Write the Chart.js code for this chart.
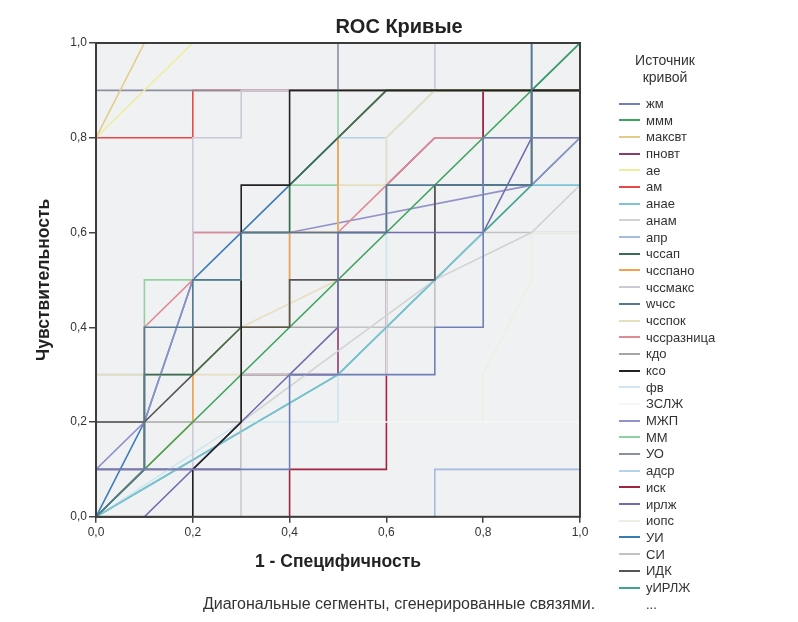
<!DOCTYPE html>
<html>
<head>
<meta charset="utf-8">
<script src="https://cdn.jsdelivr.net/npm/chart.js@4/dist/chart.umd.min.js"></script>
<style>
	body { margin: 0; background: #fff; }
	#wrap { position: relative; width: 798px; height: 622px; }
	#legend {
		position: absolute; left: 613px; top: 52px; width: 180px;
		font-family: "Liberation Sans", Arial, sans-serif; color: #333;
	}
	#legend .title { width: 104px; text-align: center; font-size: 14px; line-height: 17px; margin-bottom: 10px; }
	#legend .item { height: 16.7px; line-height: 16.7px; font-size: 13px; white-space: nowrap; }
	#legend .swatch { display: inline-block; width: 21px; height: 2px; vertical-align: middle; margin: 0 6px 2px 6px; }
</style>
</head>
<body>
<div id="wrap">
	<canvas id="rocChart" width="798" height="622"></canvas>
	<div id="legend"></div>
</div>
<script>
"use strict"

// DATA -----------------------
const curveNames = [
	"жм", "ммм", "максвт", "пновт", "ае", "ам", "анае", "анам", "апр", "чссап",
	"чсспано", "чссмакс", "wчсс", "чсспок", "чссразница", "кдо", "ксо", "фв",
	"ЗСЛЖ", "МЖП", "ММ", "УО", "адср", "иск", "ирлж", "иопс", "УИ", "СИ", "ИДК", "уИРЛЖ",
]

// 1 - specificity / sensitivity pairs for each curve
const curvePoints = [
	[[0,0],[0,0.1],[0.4,0.1],[0.4,0.3],[0.7,0.3],[0.7,0.4],[0.8,0.4],[0.8,0.8],[1,0.8],[1,1]],
	[[0,0],[1,1]],
	[[0,0],[0,0.8],[0.1,1],[1,1]],
	[[0,0],[0,0.1],[0.3,0.1],[0.3,0.3],[0.5,0.3],[0.5,0.6],[0.6,0.6],[0.6,0.7],[0.7,0.8],[0.8,0.8],[0.8,0.9],[1,0.9],[1,1]],
	[[0,0],[0,0.8],[0.2,1],[1,1]],
	[[0,0],[0,0.8],[0.2,0.8],[0.2,0.9],[1,0.9],[1,1]],
	[[0,0],[0.5,0.3],[0.7,0.5],[0.8,0.6],[0.8,0.7],[1,0.7],[1,1]],
	[[0,0],[0.3,0],[0.3,0.2],[0.7,0.5],[0.9,0.6],[1,0.7],[1,1]],
	[[0,0],[0.7,0],[0.7,0.1],[1,0.1],[1,1]],
	[[0,0],[0.1,0.1],[0.1,0.3],[0.2,0.3],[0.3,0.4],[0.3,0.6],[0.4,0.6],[0.4,0.7],[0.6,0.9],[1,0.9],[1,1]],
	[[0,0],[0.2,0.2],[0.2,0.3],[0.3,0.4],[0.4,0.4],[0.4,0.6],[0.5,0.6],[0.5,0.8],[0.6,0.9],[1,0.9],[1,1]],
	[[0,0],[0.2,0],[0.2,0.8],[0.3,0.8],[0.3,0.9],[0.7,0.9],[0.7,1],[1,1]],
	[[0,0],[0.1,0.1],[0.1,0.4],[0.2,0.4],[0.2,0.5],[0.3,0.5],[0.3,0.6],[0.6,0.6],[0.6,0.7],[0.9,0.7],[0.9,1],[1,1]],
	[[0,0],[0,0.3],[0.3,0.3],[0.3,0.4],[0.5,0.5],[0.5,0.7],[0.6,0.7],[0.6,0.8],[0.7,0.9],[1,0.9],[1,1]],
	[[0,0],[0.1,0.1],[0.1,0.4],[0.2,0.5],[0.2,0.6],[0.5,0.6],[0.6,0.7],[0.7,0.8],[1,0.8],[1,1]],
	[[0,0],[0,0.2],[0.3,0.2],[0.3,0.4],[0.5,0.4],[0.5,0.5],[0.7,0.5],[0.7,0.7],[0.9,0.7],[0.9,0.9],[1,0.9],[1,1]],
	[[0,0],[0.2,0],[0.2,0.1],[0.3,0.2],[0.3,0.7],[0.4,0.7],[0.4,0.9],[1,0.9],[1,1]],
	[[0,0],[0.3,0.2],[0.5,0.2],[0.5,0.3],[0.6,0.3],[0.6,0.8],[0.7,0.9],[0.7,1],[1,1]],
	[[0,0],[0,0.2],[1,0.2],[1,1]],
	[[0,0],[0,0.1],[0.1,0.2],[0.2,0.5],[0.2,0.6],[0.4,0.6],[0.9,0.7],[1,0.8],[1,1]],
	[[0,0],[0.1,0.1],[0.1,0.5],[0.3,0.5],[0.3,0.6],[0.4,0.6],[0.4,0.7],[0.5,0.7],[0.5,0.9],[1,0.9],[1,1]],
	[[0,0],[0,0.9],[0.5,0.9],[0.5,1],[1,1]],
	[[0,0],[0,0.3],[0.2,0.3],[0.3,0.4],[0.4,0.4],[0.4,0.6],[0.5,0.6],[0.5,0.8],[0.6,0.8],[0.7,0.9],[1,0.9],[1,1]],
	[[0,0],[0.4,0],[0.4,0.1],[0.6,0.1],[0.6,0.5],[0.7,0.5],[0.7,0.7],[0.8,0.7],[0.8,0.9],[1,0.9],[1,1]],
	[[0,0],[0.1,0],[0.5,0.4],[0.5,0.6],[0.8,0.6],[0.9,0.8],[0.9,1],[1,1]],
	[[0,0],[0,0.2],[0.8,0.2],[0.8,0.3],[0.9,0.5],[0.9,0.6],[1,0.6],[1,1]],
	[[0,0],[0.1,0.2],[0.2,0.5],[0.4,0.7],[0.6,0.9],[0.9,0.9],[1,1]],
	[[0,0],[0.3,0],[0.3,0.3],[0.4,0.3],[0.5,0.4],[0.7,0.4],[0.7,0.5],[0.8,0.6],[1,0.6],[1,1]],
	[[0,0],[0,0.2],[0.1,0.2],[0.2,0.3],[0.2,0.4],[0.4,0.4],[0.4,0.5],[0.7,0.5],[0.7,0.7],[0.9,0.7],[0.9,0.9],[1,0.9],[1,1]],
	[[0,0],[0.5,0.3],[0.6,0.4],[0.7,0.5],[0.9,0.7],[1,0.8],[1,1]],
]

const tickValues = [0, 0.2, 0.4, 0.6, 0.8, 1.0]
const tickLabels = ["0,0", "0,2", "0,4", "0,6", "0,8", "1,0"]

// STYLES -----------------------
const curveColors = [
	"#6f80b8", "#3ca35c", "#e2cd88", "#8a3c6c", "#eeee9c", "#e84848", "#7ac4d6", "#d2d2d2",
	"#a4bce2", "#3c6c52", "#f4a24e", "#cccad8", "#527a92", "#e6dfc0", "#e08a96", "#a6a6a6",
	"#222222", "#cfe6ee", "#f6f6f6", "#9292ca", "#92d2a2", "#8a90a0", "#b4d2ea", "#a22244",
	"#6e6eae", "#ecefe2", "#3b7bb9", "#c2c2c2", "#555555", "#42a392",
]

// curves drawn above (-1) or below (1) the rest
const onTop = ["ксо", "ИДК", "wчсс", "жм", "ирлж"]
const below = ["пновт", "ам"]

const font = "'Liberation Sans', Arial, sans-serif"

// CHART -----------------------
const plotFrame = {
	id: "plotFrame",
	beforeDatasetsDraw(chart) {
		const a = chart.chartArea
		const ctx = chart.ctx
		ctx.save()
		ctx.fillStyle = "#f0f1f2"
		ctx.fillRect(a.left, a.top, a.right - a.left, a.bottom - a.top)
		ctx.restore()
	},
	afterDatasetsDraw(chart) {
		const a = chart.chartArea
		const ctx = chart.ctx
		ctx.save()
		ctx.strokeStyle = "#3c3c3c"
		ctx.lineWidth = 2
		ctx.strokeRect(a.left, a.top, a.right - a.left, a.bottom - a.top)
		ctx.restore()
	},
}

const datasets = curveNames.map(function (name, i) {
	let order = 0
	if (onTop.indexOf(name) >= 0) order = -1
	if (below.indexOf(name) >= 0) order = 1
	return {
		label: name,
		data: curvePoints[i].map(function (p) { return { x: p[0], y: p[1] } }),
		borderColor: curveColors[i],
		backgroundColor: curveColors[i],
		borderWidth: 1.6,
		pointRadius: 0,
		showLine: true,
		tension: 0,
		clip: 3,
		order: order,
	}
})

function axisTicks(scale) {
	scale.ticks = tickValues.map(function (v) { return { value: v } })
}

new Chart(document.getElementById("rocChart"), {
	type: "scatter",
	data: { datasets: datasets },
	options: {
		responsive: false,
		animation: false,
		layout: { padding: 0 },
		plugins: {
			legend: { display: false },
			tooltip: { enabled: false },
			title: {
				display: true,
				text: "ROC Кривые",
				color: "#222",
				font: { family: font, size: 20, weight: "bold" },
				padding: { top: 15, bottom: 4 },
			},
			subtitle: {
				display: true,
				position: "bottom",
				text: "Диагональные сегменты, сгенерированные связями.",
				color: "#333",
				font: { family: font, size: 16 },
				padding: { top: 16, bottom: 8 },
			},
		},
		scales: {
			x: {
				type: "linear",
				min: 0,
				max: 1,
				afterBuildTicks: axisTicks,
				afterFit: function (scale) { scale.height = 62 },
				grid: { drawOnChartArea: false, drawTicks: true, tickLength: 6, color: "#444", lineWidth: 1.5 },
				border: { display: false },
				ticks: {
					color: "#333",
					font: { family: font, size: 12 },
					padding: 3,
					maxRotation: 0,
					callback: function (v, i) { return tickLabels[i] },
				},
				title: {
					display: true,
					text: "1 - Специфичность",
					color: "#222",
					font: { family: font, size: 17.5, weight: "bold" },
					padding: { top: 0, bottom: 6 },
				},
			},
			y: {
				type: "linear",
				min: 0,
				max: 1,
				afterBuildTicks: axisTicks,
				afterFit: function (scale) { scale.width = 96 },
				grid: { drawOnChartArea: false, drawTicks: true, tickLength: 7, color: "#444", lineWidth: 1.5 },
				border: { display: false },
				ticks: {
					color: "#333",
					font: { family: font, size: 12 },
					padding: 2,
					callback: function (v, i) { return tickLabels[i] },
				},
				title: {
					display: true,
					text: "Чувствительность",
					color: "#222",
					font: { family: font, size: 17.5, weight: "bold" },
					padding: { top: 34, bottom: 0 },
				},
			},
			spacer: {
				type: "linear",
				position: "right",
				afterFit: function (scale) { scale.width = 218 },
				grid: { display: false },
				border: { display: false },
				ticks: { display: false },
			},
		},
	},
	plugins: [plotFrame],
})

// LEGEND -----------------------
const legend = document.getElementById("legend")
legend.innerHTML = '<div class="title">Источник<br>кривой</div>'
curveNames.forEach(function (name, i) {
	const row = document.createElement("div")
	row.className = "item"
	row.innerHTML = '<span class="swatch" style="background:' + curveColors[i] + '"></span>' + name
	legend.appendChild(row)
})
const more = document.createElement("div")
more.className = "item"
more.innerHTML = '<span class="swatch"></span>...'
legend.appendChild(more)
</script>
</body>
</html>
